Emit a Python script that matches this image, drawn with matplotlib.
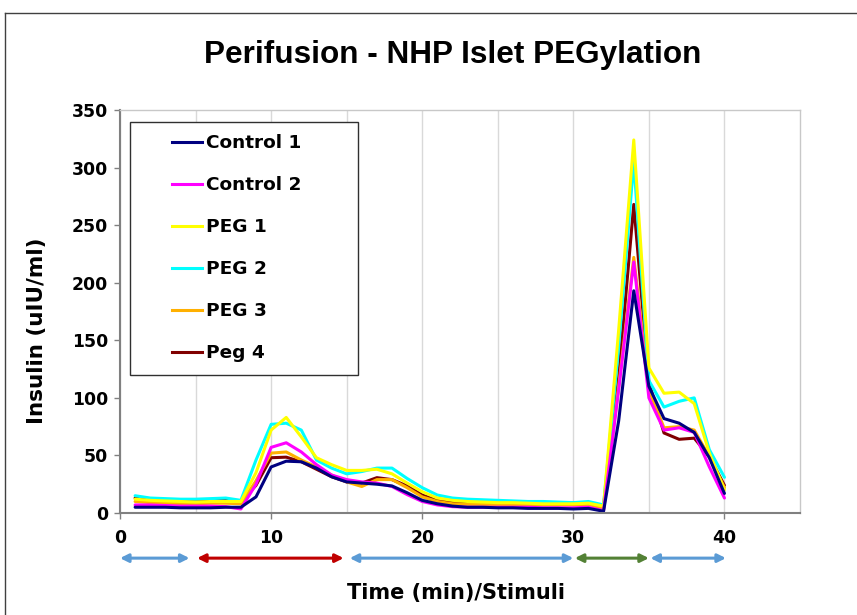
import numpy as np
import matplotlib
matplotlib.use("Agg")
from matplotlib import pyplot as plt
from matplotlib.patches import Rectangle
from matplotlib.lines import Line2D

# time points (min)
minutes = list(range(1, 41))

control_1 = [5, 5, 5, 4.5, 4.5, 4.5, 5, 5, 14, 40,
             45, 44.5, 39, 31.5, 27, 26, 25, 23.5, 17.6, 11,
             8, 6, 5, 5, 4.5, 4.5, 4, 4, 4, 3.5,
             4, 1.5, 80, 193, 110, 82, 78, 70, 48, 17]
control_2 = [7, 7, 6.5, 6, 6, 6, 5.5, 3.5, 25, 57,
             61, 53, 42, 33, 29, 27, 26, 23, 16, 10,
             7, 5.5, 5, 5, 5, 5, 5, 4.5, 4.5, 4.5,
             5, 2, 107, 218, 100, 72, 74, 70, 40, 13]
peg_1 = [12, 11, 10.5, 10, 9.5, 10, 10, 10, 35, 72,
         83, 66, 48, 42, 37, 37, 38, 34, 26, 18.5,
         13, 11, 10, 9.5, 9, 9, 8.5, 8, 8, 8,
         8.5, 6, 159, 324, 126, 104, 105, 95, 52, 20]
peg_2 = [15, 13, 12.5, 12, 12, 12.5, 13, 11, 46, 77,
         78, 72, 46, 39, 34, 36, 39, 39, 30, 22,
         15.6, 13, 12, 11.5, 11, 10.5, 10, 10, 9.5, 9,
         10, 7, 144, 305, 115, 92, 97, 100, 55, 31]
peg_3 = [10, 9, 8.5, 8, 8, 8.5, 8.5, 8, 28, 52,
         53, 46, 40, 33, 27, 23, 29, 29, 22, 14,
         10, 8, 7.5, 7.5, 7, 7, 7, 7, 7, 7,
         7.5, 4, 110, 222, 107, 74, 75, 72, 49, 22]
peg_4 = [13, 11.5, 11, 10, 10.5, 10.5, 11, 10, 24, 48,
         48.5, 44.5, 38, 31.5, 27, 26, 30.7, 29, 23.5, 15.6,
         11, 10, 9.5, 9, 9, 9, 8.5, 8.5, 8.5, 8.5,
         8.7, 6, 118, 268, 113, 69.5, 64, 65, 49, 24]

series_names = ["Control 1", "Control 2", "PEG 1", "PEG 2", "PEG 3", "Peg 4"]
series_values = [control_1, control_2, peg_1, peg_2, peg_3, peg_4]
series_colors = ["#000080", "#FF00FF", "#FFFF00", "#00FFFF", "#FFB000", "#800000"]

# stimulus periods shown as arrows below the axis
stim_start = [0, 5.1, 15.2, 30.1, 35.1]
stim_end = [4.6, 14.8, 30.0, 35.0, 40.1]
stim_colors = ["#5B9BD5", "#C00000", "#5B9BD5", "#538135", "#5B9BD5"]

fig = plt.figure(figsize=(8.57, 6.15), dpi=100)
ax = fig.add_axes([120 / 857, 102 / 615, 680 / 857, 403 / 615])

# draw in reverse so Control 1 sits on top like the original
for name, vals, col in list(zip(series_names, series_values, series_colors))[::-1]:
    ax.plot(minutes, vals, color=col, lw=2.2, label=name,
            solid_capstyle="round", solid_joinstyle="round")

ax.set_xlim(0, 45)
ax.set_ylim(0, 350)
ax.set_xticks([0, 10, 20, 30, 40])
ax.set_xticks([5, 15, 25, 35], minor=True)
ax.set_yticks(range(0, 351, 50))
ax.grid(axis="x", which="both", color="#D9D9D9", lw=1)
ax.tick_params(axis="x", which="minor", length=0)
ax.tick_params(axis="both", which="major", length=4, width=1, color="#808080",
               labelsize=12.4)
ax.tick_params(axis="x", which="major", pad=7.5)
ax.tick_params(axis="y", which="major", pad=4.5)
for lab in ax.get_xticklabels() + ax.get_yticklabels():
    lab.set_fontweight("bold")

for side in ["left", "bottom"]:
    ax.spines[side].set_color("#808080")
    ax.spines[side].set_linewidth(1.5)
for side in ["top", "right"]:
    ax.spines[side].set_color("#C8C8C8")
    ax.spines[side].set_linewidth(1)

ax.set_ylabel("Insulin (uIU/ml)", fontsize=15.5, fontweight="bold", va="center")
ax.yaxis.set_label_coords(-0.122, 0.452)
ax.set_xlabel("Time (min)/Stimuli", fontsize=15, fontweight="bold", va="center")
ax.xaxis.set_label_coords(0.494, -0.199)

for s, e, c in zip(stim_start, stim_end, stim_colors):
    ax.annotate("", xy=(e, -0.112), xytext=(s, -0.112),
                xycoords=("data", "axes fraction"),
                textcoords=("data", "axes fraction"),
                arrowprops=dict(arrowstyle="<|-|>", color=c, lw=2.2,
                                mutation_scale=12, shrinkA=0, shrinkB=0),
                annotation_clip=False)

# legend
handles = [Line2D([], [], color=c, lw=2.2) for c in series_colors]
leg = ax.legend(handles, series_names, loc="upper left",
                bbox_to_anchor=((175 - 120) / 680 - 0.004, (513 - 134) / 403),
                frameon=False, borderaxespad=0, borderpad=0,
                handlelength=1.6, handletextpad=0.2, labelspacing=1.3,
                prop=dict(size=13.3, weight="bold"))
ax.add_patch(Rectangle(((130 - 120) / 680, (513 - 375) / 403),
                       228 / 680, 253 / 403, transform=ax.transAxes,
                       fill=True, facecolor="white", edgecolor="#303030",
                       lw=1, zorder=4))
leg.set_zorder(5)

fig.text(453 / 857, 1 - 55 / 615, "Perifusion - NHP Islet PEGylation",
         ha="center", va="center", fontsize=22.7, fontweight="bold",
         family="Liberation Sans")

# outer frame of the original chart area
fig.add_artist(Line2D([5 / 857, 1], [1 - 13 / 615, 1 - 13 / 615],
                      color="#404040", lw=1, transform=fig.transFigure))
fig.add_artist(Line2D([5 / 857, 5 / 857], [0, 1 - 13 / 615],
                      color="#404040", lw=1, transform=fig.transFigure))

fig.savefig("out.png", dpi=100)
